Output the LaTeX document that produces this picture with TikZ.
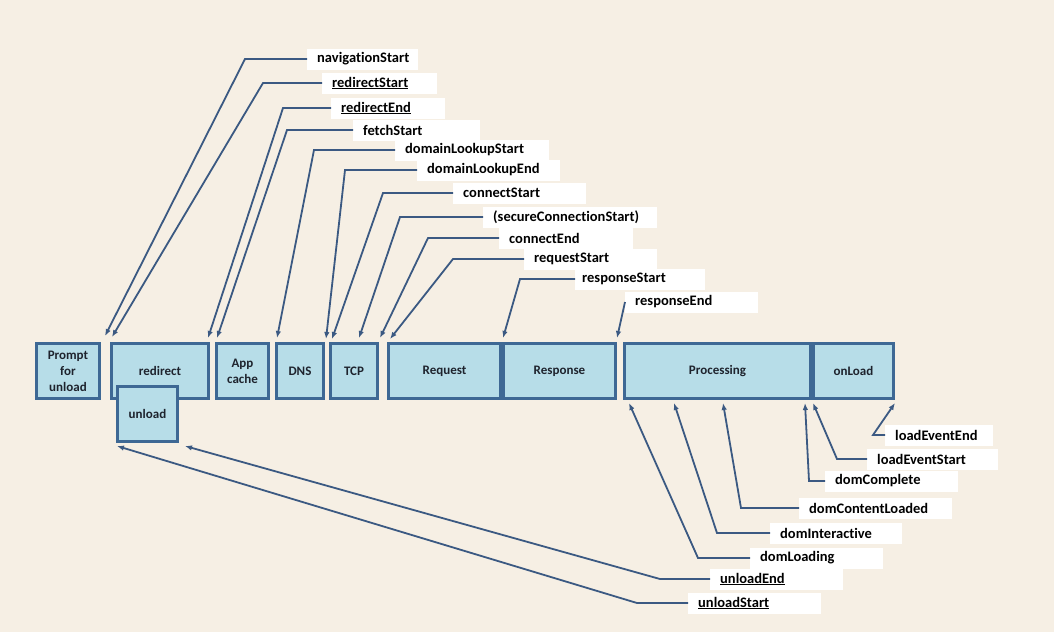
\documentclass[tikz,border=0pt]{standalone}
\usepackage{fontspec}
\setmainfont[Ligatures=NoCommon]{Carlito}
\usetikzlibrary{arrows.meta,positioning}

\definecolor{bgcol}{RGB}{246,239,228}
\definecolor{boxfill}{RGB}{183,221,232}
\definecolor{boxdraw}{RGB}{62,104,148}
\definecolor{linecol}{RGB}{59,89,130}
\definecolor{boxtext}{RGB}{30,35,45}

\tikzset{
    stage/.style={draw=boxdraw, fill=boxfill, line width=2.8pt, minimum height=55pt,
        inner sep=1pt, align=center, text=boxtext, font=\bfseries\fontsize{13}{16}\selectfont},
    tag/.style={fill=white, anchor=west, inner xsep=10pt, inner ysep=0pt,
        minimum height=21pt, align=left, font=\bfseries\fontsize{14.5}{16}\selectfont},
    marker/.style={draw=linecol, line width=1.8pt, -{Latex[length=7pt,width=5.5pt]}}
}

\begin{document}
\begin{tikzpicture}[x=1pt,y=-1pt]
    \fill[bgcol] (0,0) rectangle (1054,632);
    \useasboundingbox (0,0) rectangle (1054,632);

    % Phases
    \node[stage, minimum width=63pt] (prompt) at (68,371) {Prompt\\for\\unload};
    \node[stage, minimum width=97pt] (redirect) at (160,371) {redirect};
    \node[stage, minimum width=60pt] (unload) at (147.5,414) {unload};
    \node[stage, minimum width=52pt] (appcache) at (242.5,371) {App\\cache};
    \node[stage, minimum width=47pt] (dns) at (300,371) {DNS};
    \node[stage, minimum width=47pt] (tcp) at (354,371) {TCP};
    \node[stage, minimum width=112pt] (request) at (444.5,371) {Request};
    \node[stage, minimum width=112pt] (response) at (559.5,371) {Response};
    \node[stage, minimum width=186pt] (processing) at (717.5,371) {Processing};
    \node[stage, minimum width=80pt] (onload) at (853.5,371) {onLoad};

    % Top markers
    \node[tag, text width=91pt] (navStart) at (307,59) {navigationStart};
    \node[tag, text width=95pt] (redStart) at (322,83) {\underline{redirectStart}};
    \node[tag, text width=94pt] (redEnd) at (331,108) {\underline{redirectEnd}};
    \node[tag, text width=107pt] (fetStart) at (353,130) {fetchStart};
    \node[tag, text width=134pt] (dnsStart) at (395,150) {domainLookupStart};
    \node[tag, text width=123pt] (dnsEnd) at (417,170) {domainLookupEnd};
    \node[tag, text width=113pt] (conStart) at (453,193) {connectStart};
    \node[tag, text width=154pt] (secStart) at (483,217) {(secureConnectionStart)};
    \node[tag, text width=114pt] (conEnd) at (499,238) {connectEnd};
    \node[tag, text width=113pt] (reqStart) at (524,259) {requestStart};
    \node[tag, text width=116pt, inner xsep=7pt] (resStart) at (575,279) {responseStart};
    \node[tag, text width=113pt] (resEnd) at (625,302) {responseEnd};

    % Bottom markers
    \node[tag, text width=88pt] (loadEnd) at (885,435) {loadEventEnd};
    \node[tag, text width=111pt] (loadStart) at (867,459) {loadEventStart};
    \node[tag, text width=113pt] (domComp) at (825,481) {domComplete};
    \node[tag, text width=133pt] (domCont) at (799,508) {domContentLoaded};
    \node[tag, text width=112pt] (domInter) at (770,533) {domInteractive};
    \node[tag, text width=113pt] (domLoad) at (750,558) {domLoading};
    \node[tag, text width=113pt] (unlEnd) at (710,579) {\underline{unloadEnd}};
    \node[tag, text width=113pt] (unlStart) at (688,603) {\underline{unloadStart}};

    % Bends and tips
    \coordinate (navBend) at (245,59);   \coordinate (navTip) at (105,336);
    \coordinate (rsBend) at (263,83);    \coordinate (rsTip) at (112,337);
    \coordinate (reBend) at (283,108);   \coordinate (reTip) at (208,338);
    \coordinate (fsBend) at (287,130);   \coordinate (fsTip) at (217,338);
    \coordinate (dsBend) at (314,150);   \coordinate (dsTip) at (277,338);
    \coordinate (deBend) at (345,170);   \coordinate (deTip) at (326,339);
    \coordinate (csBend) at (383,193);   \coordinate (csTip) at (332,339);
    \coordinate (ssBend) at (400,217);   \coordinate (ssTip) at (359,338);
    \coordinate (ceBend) at (428,238);   \coordinate (ceTip) at (380,338);
    \coordinate (qsBend) at (453,259);   \coordinate (qsTip) at (390,339);
    \coordinate (psBend) at (520,279);   \coordinate (psTip) at (503,338);
    \coordinate (peBend) at (625,302);   \coordinate (peTip) at (617,338);
    \coordinate (leBend) at (873,435);   \coordinate (leTip) at (895,403);
    \coordinate (lsBend) at (837,459);   \coordinate (lsTip) at (813,403);
    \coordinate (dcBend) at (809,481);   \coordinate (dcTip) at (805,403);
    \coordinate (clBend) at (741,508);   \coordinate (clTip) at (723,403);
    \coordinate (diBend) at (717,533);   \coordinate (diTip) at (674,403);
    \coordinate (dlBend) at (698,558);   \coordinate (dlTip) at (629,403);
    \coordinate (ueBend) at (660,579);   \coordinate (ueTip) at (185,446);
    \coordinate (usBend) at (637,603);   \coordinate (usTip) at (117,446);

    \foreach \t/\c in {navStart/nav, redStart/rs, redEnd/re, fetStart/fs, dnsStart/ds,
        dnsEnd/de, conStart/cs, secStart/ss, conEnd/ce, reqStart/qs, resStart/ps, resEnd/pe,
        loadEnd/le, loadStart/ls, domComp/dc, domCont/cl, domInter/di, domLoad/dl,
        unlEnd/ue, unlStart/us}
        \draw[marker] (\t.west) -- (\c Bend) -- (\c Tip);
\end{tikzpicture}
\end{document}
